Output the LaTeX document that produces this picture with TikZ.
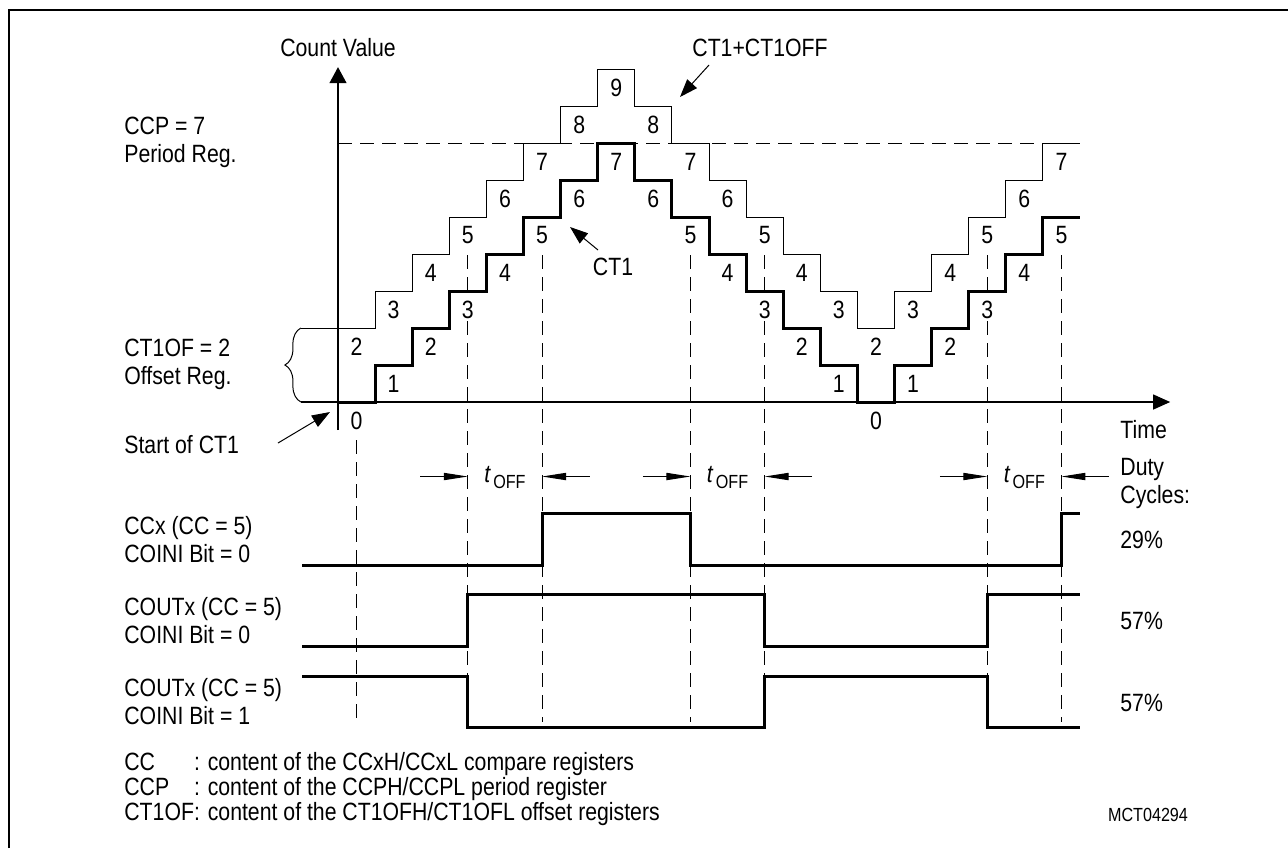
\documentclass[tikz,border=0pt]{standalone}
\usepackage{fontspec}
\setmainfont{Liberation Sans}[FakeStretch=0.85]
\usetikzlibrary{arrows.meta,decorations.pathreplacing}

\begin{document}
\begin{tikzpicture}[x=0.5pt, y=-0.5pt,
  txt/.style={font=\fontsize{12.5pt}{14pt}\selectfont, inner sep=0pt},
  lbl/.style={txt, anchor=west, align=left},
  num/.style={txt, fill=white, inner sep=1pt},
  axisline/.style={line width=0.6pt},
  thinstep/.style={line width=0.5pt},
  thickstep/.style={line width=1.5pt},
  sig/.style={line width=1.5pt},
  guide/.style={line width=0.5pt, dash pattern=on 7pt off 4pt},
  ptr/.style={line width=0.5pt, -{Triangle[length=9pt,width=6.5pt]}},
  dimarr/.style={line width=0.5pt, -{Triangle[length=12pt,width=3.6pt]}}
]
\useasboundingbox (0,0) rectangle (1288,848);
% Frame
\draw[line width=1.3pt] (9,848) -- (9,10) -- (1288,10);

% Compare events and outputs
\begin{scope}[shift={(338,0)}, x=18.55pt]
  \draw[guide] (0.5,440) -- (0.5,722);
  \foreach \t in {3.5,5.5,9.5,11.5,17.5,19.5}
    \draw[guide] (\t,255) -- (\t,722);
  % t_OFF
  \foreach \a/\b [count=\i] in {3.5/5.5, 9.5/11.5, 17.5/19.5} {
    \draw[dimarr] (\a-1.28,476.5) -- (\a,476.5);
    \draw[dimarr] (\b+1.28,476.5) -- (\b,476.5);
    \node[txt, anchor=base] (toff\i) at ({(\a+\b)/2},482)
      {{\itshape t}\kern1.5pt\raisebox{-3pt}{\fontsize{9.5pt}{10pt}\selectfont OFF}};
  }
  % Signals
  \draw[sig] (-0.97,565) -| (5.5,513) -| (9.5,565) -| (19.5,513) -- (20,513);
  \draw[sig] (-0.97,646) -| (3.5,594) -| (11.5,646) -| (17.5,594) -- (20,594);
  \draw[sig] (-0.97,676) -| (3.5,727) -| (11.5,676) -| (17.5,727) -- (20,727);
\end{scope}

% Counter, one unit = one count step
\begin{scope}[shift={(338,402)}, x=18.55pt, y=18.5pt]
  % Axes
  \draw[axisline, -{Triangle[length=8pt,width=8.5pt]}] (0,-0.76) -- (0,9.05);
  \draw[axisline, -{Triangle[length=8.5pt,width=7.5pt]}] (-1,0) -- (22.43,0);
  % Period register
  \draw[guide] (0,7) -- (20,7);
  % Offset brace
  \draw[thinstep, decorate, decoration={brace, amplitude=8pt}] (-1,0) -- (-1,2);
  % CT1+CT1OFF
  \draw[thinstep] (-1,2) -| (1,3) -| (2,4) -| (3,5) -| (4,6) -| (5,7) -| (6,8) -| (7,9)
    -| (8,8) -| (9,7) -| (10,6) -| (11,5) -| (12,4) -| (13,3) -| (14,2)
    -| (15,3) -| (16,4) -| (17,5) -| (18,6) -| (19,7) -- (20,7);
  % CT1
  \draw[thickstep] (0,0) -| (1,1) -| (2,2) -| (3,3) -| (4,4) -| (5,5) -| (6,6) -| (7,7)
    -| (8,6) -| (9,5) -| (10,4) -| (11,3) -| (12,2) -| (13,1) -| (14,0)
    -| (15,1) -| (16,2) -| (17,3) -| (18,4) -| (19,5) -- (20,5);
  % Step values
  \foreach \v [count=\k from 0, evaluate=\v as \w using int(\v+2)] in
      {0,1,2,3,4,5,6,7,6,5,4,3,2,1,0,1,2,3,4,5} {
    \node[num] (c\k) at (\k+0.5,\v-0.5) {\v};
    \node[num] (o\k) at (\k+0.5,\w-0.5) {\w};
  }
\end{scope}

% Labels
\node[txt] (cnt) at (338,48) {Count Value};
\node[txt] (sum) at (760,48) {CT1+CT1OFF};
\node[txt] (ct1) at (613,267) {CT1};
\node[lbl] (ccp) at (124,142) {CCP = 7\\Period Reg.};
\node[lbl] (ofs) at (124,364) {CT1OF = 2\\Offset Reg.};
\node[lbl] (start) at (124,445) {Start of CT1};
\node[lbl] (time) at (1120,430) {Time};
\node[lbl] (duty) at (1120,483) {Duty\\Cycles:};
\node[lbl] (ccx) at (124,540) {CCx (CC = 5)\\COINI Bit = 0};
\node[lbl] (cout0) at (124,621) {COUTx (CC = 5)\\COINI Bit = 0};
\node[lbl] (cout1) at (124,702) {COUTx (CC = 5)\\COINI Bit = 1};
\node[lbl] (duty1) at (1120,540) {29\%};
\node[lbl] (duty2) at (1120,621) {57\%};
\node[lbl] (duty3) at (1120,703) {57\%};
\node[lbl] (key) at (124,790) {\renewcommand{\arraystretch}{0.86}%
\begin{tabular}{@{}l@{}l@{}}
  CC & : content of the CCxH/CCxL compare registers\\
  CCP & : content of the CCPH/CCPL period register\\
  CT1OF & : content of the CT1OFH/CT1OFL offset registers
\end{tabular}};
\node[txt, font=\fontsize{9.5pt}{10pt}\selectfont] (fig) at (1148,815) {MCT04294};

% Pointers
\coordinate (sumtail) at (709,65);
\coordinate (sumtip) at (680,97);
\coordinate (ct1tail) at (598,250);
\coordinate (ct1tip) at (570,227);
\coordinate (starttail) at (278,443);
\coordinate (starttip) at (330,412);
\draw[ptr] (sumtail) -- (sumtip);
\draw[ptr] (ct1tail) -- (ct1tip);
\draw[ptr] (starttail) -- (starttip);
\end{tikzpicture}
\end{document}
